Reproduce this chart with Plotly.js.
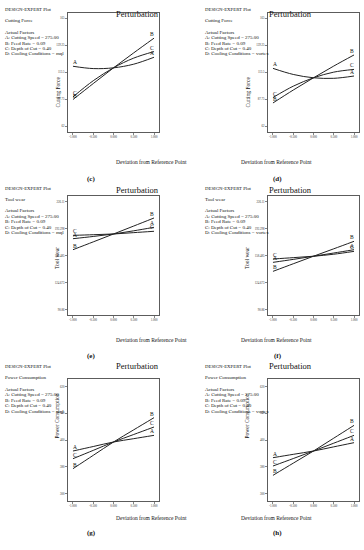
<!DOCTYPE html>
<html><head><meta charset="utf-8">
<script src="https://cdn.plot.ly/plotly-3.0.1.min.js"></script>
<style>html,body{margin:0;padding:0;background:#fff}#chart{width:364px;height:550px}</style>
</head><body><div id="chart"></div>
<script>
// ---- data ----
const xs = [-1, -0.5, 0, 0.5, 1];
const xTickVals = [-1, -0.5, 0, 0.5, 1];
const xTickText = ["-1.000", "-0.500", "0.000", "0.500", "1.000"];

const cfTickVals = [62, 87.75, 113.5, 139.25, 165];
const cfTickText = ["62", "87.75", "113.5", "139.25", "165"];
const twTickVals = [90.86, 124.67, 158.49, 192.3, 226.11];
const twTickText = ["90.86", "124.673", "158.485", "192.298", "226.11"];
const pcTickVals = [300, 380, 460, 540, 620];
const pcTickText = ["300", "380", "460", "540", "620"];

// Cutting force, MQL (c)
const cfMqlA = [119.0, 116.8, 117.5, 121.0, 127.6];
const cfMqlB = [87.3, 102.5, 117.5, 131.8, 145.8];
const cfMqlC = [89.8, 105.2, 117.5, 126.8, 133.0];
// Cutting force, vortex (d)
const cfVorA = [117.0, 111.2, 108.0, 107.5, 109.7];
const cfVorB = [84.0, 96.3, 108.0, 119.2, 129.8];
const cfVorC = [89.2, 100.0, 108.0, 113.4, 116.0];
// Tool wear, MQL (e)
const twMqlA = [180.0, 182.8, 185.9, 189.9, 194.3];
const twMqlB = [166.2, 176.0, 185.9, 195.9, 206.0];
const twMqlC = [184.2, 185.0, 185.9, 187.6, 189.3];
// Tool wear, vortex (f)
const twVorA = [150.3, 154.0, 158.0, 162.0, 166.2];
const twVorB = [139.0, 148.5, 158.0, 167.3, 176.7];
const twVorC = [154.5, 156.2, 158.0, 160.5, 164.1];
// Power consumption, MQL (g)
const pcMqlA = [427.6, 441.0, 454.5, 464.5, 474.4];
const pcMqlB = [374.7, 414.6, 454.5, 491.0, 527.3];
const pcMqlC = [404.6, 429.5, 454.5, 477.0, 499.4];
// Power consumption, vortex (h)
const pcVorA = [407.6, 417.6, 427.6, 440.0, 452.5];
const pcVorB = [354.8, 391.2, 427.6, 466.0, 504.3];
const pcVorC = [382.7, 405.0, 427.6, 451.0, 474.4];

const responses = ["Cutting Force", "Cutting Force", "Tool wear", "Tool wear", "Power Consumption", "Power Consumption"];
const cooling = ["mql", "vortex", "mql", "vortex", "mql", "vortex"];
const panelLetters = ["(c)", "(d)", "(e)", "(f)", "(g)", "(h)"];
const factorA = "A: Cutting Speed = 275.00";
const factorB = "B: Feed Rate = 0.09";
const factorC = "C: Depth of Cut = 0.40";

// ---- layout helpers ----
const W = 364, H = 550;
const px = v => v / W, py = v => 1 - v / H;
const SERIF = "Liberation Serif, Times New Roman, serif";
const INK = "#111";

const panels = [
  {A: cfMqlA, B: cfMqlB, C: cfMqlC, tv: cfTickVals, tt: cfTickText, yr: [56.3, 169.8], col: 0, row: 0},
  {A: cfVorA, B: cfVorB, C: cfVorC, tv: cfTickVals, tt: cfTickText, yr: [56.3, 169.8], col: 1, row: 0},
  {A: twMqlA, B: twMqlB, C: twMqlC, tv: twTickVals, tt: twTickText, yr: [84.2, 233.6], col: 0, row: 1},
  {A: twVorA, B: twVorB, C: twVorC, tv: twTickVals, tt: twTickText, yr: [84.2, 233.6], col: 1, row: 1},
  {A: pcMqlA, B: pcMqlB, C: pcMqlC, tv: pcTickVals, tt: pcTickText, yr: [278, 643], col: 0, row: 2},
  {A: pcVorA, B: pcVorB, C: pcVorC, tv: pcTickVals, tt: pcTickText, yr: [278, 643], col: 1, row: 2}
];
const colX = [{l: 68, r: 159, text: 3, lab: 85}, {l: 268, r: 359, text: 203, lab: 284}];
const rowY = [{o: 0, t: 13, b: 132}, {o: 183, t: 196, b: 315}, {o: 366, t: 379, b: 501}];

const data = [];
const layout = {
  width: W, height: H, margin: {l: 0, r: 0, t: 0, b: 0},
  paper_bgcolor: "#fff", plot_bgcolor: "#fff", showlegend: false,
  font: {family: SERIF, color: INK},
  annotations: []
};

panels.forEach((p, i) => {
  const n = i === 0 ? "" : String(i + 1);
  const xa = "x" + n, ya = "y" + n;
  const c = colX[p.col], r = rowY[p.row];
  ["A", "B", "C"].forEach(k => {
    data.push({x: xs, y: p[k], xaxis: xa, yaxis: ya, type: "scatter", mode: "lines",
      line: {color: "#222", width: 1, shape: "spline"}, hoverinfo: "skip"});
    [0, xs.length - 1].forEach(j => {
      layout.annotations.push({x: xs[j], y: p[k][j], xref: xa, yref: ya, text: k, showarrow: false,
        yshift: 4, xshift: j === 0 ? 2 : -2, font: {size: 5.5, family: SERIF, color: INK}});
    });
  });
  const axBase = {showline: true, linecolor: "#333", linewidth: 0.8, mirror: true, ticks: "outside",
    ticklen: 2, tickwidth: 0.6, tickcolor: "#333", showgrid: false, zeroline: false,
    tickfont: {size: 3, family: SERIF, color: "#333"}, fixedrange: true};
  layout["xaxis" + n] = Object.assign({}, axBase, {domain: [px(c.l), px(c.r)], range: [-1.123, 1.123],
    anchor: ya, tickmode: "array", tickvals: xTickVals, ticktext: xTickText});
  layout["yaxis" + n] = Object.assign({}, axBase, {domain: [py(r.b), py(r.t)], range: p.yr,
    anchor: xa, tickmode: "array", tickvals: p.tv, ticktext: p.tt});

  const cx = (c.l + c.r) / 2;
  const ann = (x, y, text, size, extra) => layout.annotations.push(Object.assign({
    x: px(x), y: py(y), xref: "paper", yref: "paper", text, showarrow: false,
    font: {size, family: SERIF, color: INK}}, extra || {}));
  ann(cx, r.o + 7, "Perturbation", 8.5);
  const tl = {xanchor: "left"};
  ann(c.text, r.o + 5, "DESIGN-EXPERT Plot", 4.8, tl);
  ann(c.text, r.o + 16, responses[i], 5, tl);
  ann(c.text, r.o + 27.5, "Actual Factors", 5, tl);
  ann(c.text, r.o + 33, factorA, 5, tl);
  ann(c.text, r.o + 38.5, factorB, 5, tl);
  ann(c.text, r.o + 44, factorC, 5, tl);
  ann(c.text, r.o + 49.5, "D: Cooling Conditions = " + cooling[i], 5, tl);
  ann(c.l - 16, r.o + 75, responses[i], 5.5, {textangle: -90});
  ann(cx, r.o + 157, "Deviation from Reference Point", 5.5);
  ann(c.lab, r.o + 173, panelLetters[i], 7, {font: {size: 7, family: SERIF, color: "#111", weight: "bold"}});
});

Plotly.newPlot("chart", data, layout, {staticPlot: true, displayModeBar: false});
</script></body></html>
